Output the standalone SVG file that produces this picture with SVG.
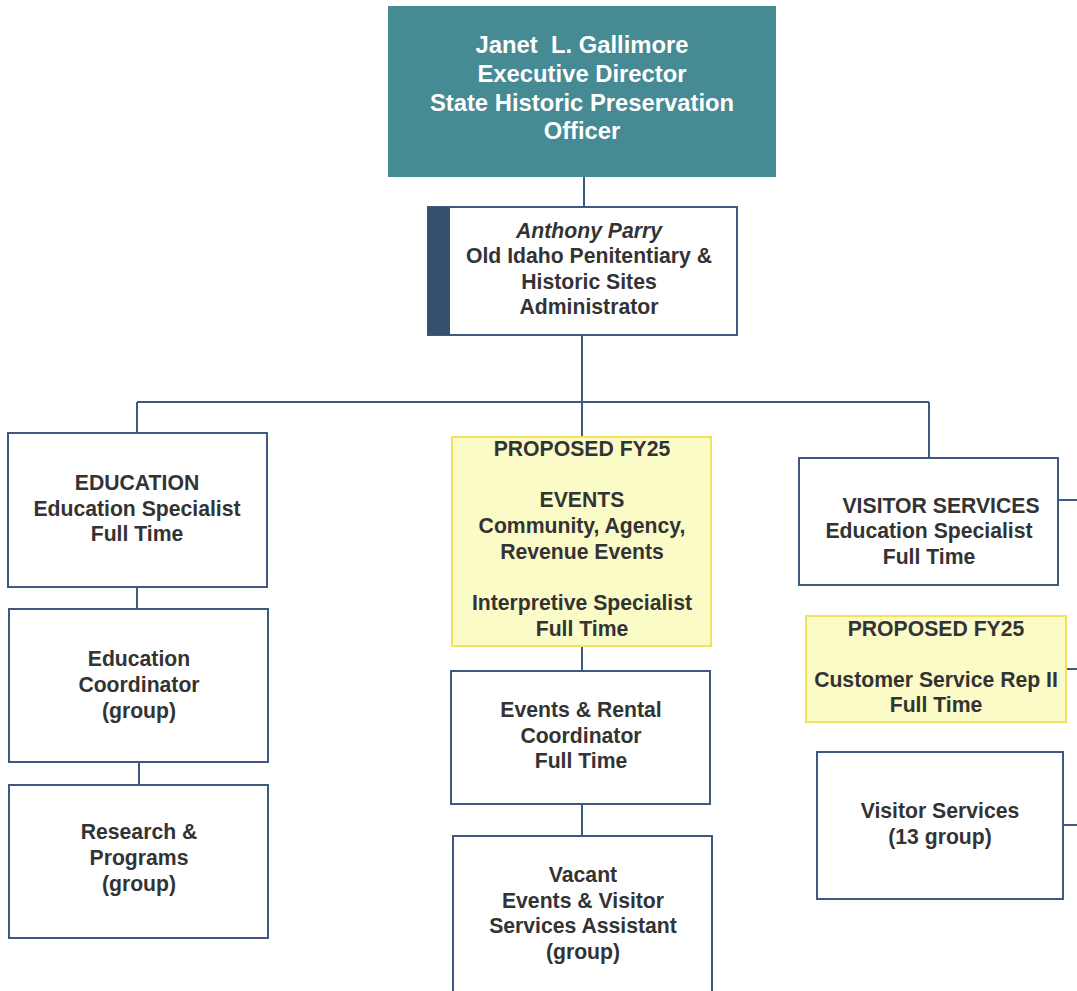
<svg xmlns="http://www.w3.org/2000/svg" width="1077" height="991" viewBox="0 0 1077 991">
<style>
.box{fill:#ffffff;stroke:#3f5a80;stroke-width:2}
.prop{fill:#fbfbc8;stroke:#f3e35c;stroke-width:2}
.t{font-family:"Liberation Sans",Arial,sans-serif;font-weight:bold;font-size:21.2px;fill:#333333;text-anchor:middle}
.w{font-family:"Liberation Sans",Arial,sans-serif;font-weight:bold;font-size:23.8px;fill:#ffffff;text-anchor:middle;white-space:pre}
.c{fill:none;stroke:#3f5a80;stroke-width:2}
</style>
<rect width="1077" height="991" fill="#ffffff"/>
<g id="connectors">
<path class="c" d="M584 177V207"/>
<path class="c" d="M582 335V402M137 402H929M137 402V433M582 402V437M929 402V458"/>
<path class="c" d="M137 587V609M139 762V785"/>
<path class="c" d="M582 646V671M582 804V836"/>
<path class="c" d="M1058 500H1077M1066 669H1077M1063 825H1077"/>
</g>
<g id="director">
<rect x="388" y="6" width="388" height="171" fill="#468a94"/>
<text class="w" x="582" y="53" xml:space="preserve">Janet  L. Gallimore</text>
<text class="w" x="582" y="82">Executive Director</text>
<text class="w" x="582" y="111">State Historic Preservation</text>
<text class="w" x="582" y="139">Officer</text>
</g>
<g id="administrator">
<rect class="box" x="428" y="207" width="309" height="128"/>
<rect x="428" y="207" width="22" height="128" fill="#34506e"/>
<text class="t" x="589" y="238" font-style="italic">Anthony Parry</text>
<text class="t" x="589" y="263">Old Idaho Penitentiary &amp;</text>
<text class="t" x="589" y="289">Historic Sites</text>
<text class="t" x="589" y="314">Administrator</text>
</g>
<g id="education">
<rect class="box" x="8" y="433" width="259" height="154"/>
<text class="t" x="137" y="490">EDUCATION</text>
<text class="t" x="137" y="516">Education Specialist</text>
<text class="t" x="137" y="541">Full Time</text>
</g>
<g id="edu-coordinator">
<rect class="box" x="9" y="609" width="259" height="153"/>
<text class="t" x="139" y="666">Education</text>
<text class="t" x="139" y="692">Coordinator</text>
<text class="t" x="139" y="718">(group)</text>
</g>
<g id="research">
<rect class="box" x="9" y="785" width="259" height="153"/>
<text class="t" x="139" y="839">Research &amp;</text>
<text class="t" x="139" y="865">Programs</text>
<text class="t" x="139" y="891">(group)</text>
</g>
<g id="events">
<rect class="prop" x="452" y="437" width="259" height="209"/>
<text class="t" x="582" y="456">PROPOSED FY25</text>
<text class="t" x="582" y="507">EVENTS</text>
<text class="t" x="582" y="533">Community, Agency,</text>
<text class="t" x="582" y="559">Revenue Events</text>
<text class="t" x="582" y="610">Interpretive Specialist</text>
<text class="t" x="582" y="636">Full Time</text>
</g>
<g id="events-rental">
<rect class="box" x="451" y="671" width="259" height="133"/>
<text class="t" x="581" y="717">Events &amp; Rental</text>
<text class="t" x="581" y="743">Coordinator</text>
<text class="t" x="581" y="768">Full Time</text>
</g>
<g id="vacant">
<rect class="box" x="453" y="836" width="259" height="165"/>
<text class="t" x="583" y="882">Vacant</text>
<text class="t" x="583" y="908">Events &amp; Visitor</text>
<text class="t" x="583" y="933">Services Assistant</text>
<text class="t" x="583" y="959">(group)</text>
</g>
<g id="visitor-services">
<rect class="box" x="799" y="458" width="259" height="127"/>
<text class="t" x="941" y="513">VISITOR SERVICES</text>
<text class="t" x="929" y="538">Education Specialist</text>
<text class="t" x="929" y="564">Full Time</text>
</g>
<g id="customer-service">
<rect class="prop" x="806" y="616" width="260" height="106"/>
<text class="t" x="936" y="636">PROPOSED FY25</text>
<text class="t" x="936" y="687">Customer Service Rep II</text>
<text class="t" x="936" y="712">Full Time</text>
</g>
<g id="visitor-group">
<rect class="box" x="817" y="752" width="246" height="147"/>
<text class="t" x="940" y="818">Visitor Services</text>
<text class="t" x="940" y="844">(13 group)</text>
</g>
</svg>
